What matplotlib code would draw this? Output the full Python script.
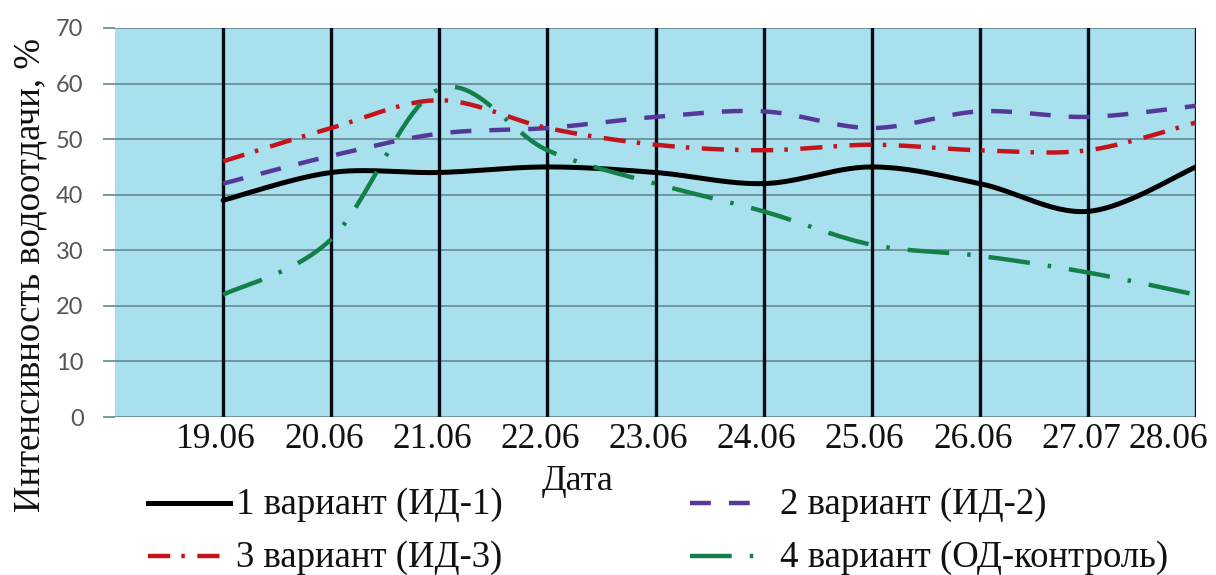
import numpy as np
import matplotlib
matplotlib.use("Agg")
import matplotlib.pyplot as plt
from matplotlib.lines import Line2D
from matplotlib.transforms import ScaledTranslation

plt.rcParams['lines.scale_dashes'] = False

# ---- data ----
dates = ["19.06", "20.06", "21.06", "22.06", "23.06", "24.06", "25.06", "26.06", "27.07", "28.06"]
v1 = [39, 44, 44, 45, 44, 42, 45, 42, 37, 45]   # 1 вариант (ИД-1)
v2 = [42, 47, 51, 52, 54, 55, 52, 55, 54, 56]   # 2 вариант (ИД-2)
v3 = [46, 52, 57, 52, 49, 48, 49, 48, 48, 53]   # 3 вариант (ИД-3)
v4 = [22, 32, 59, 48, 42, 37, 31, 29, 26, 22]   # 4 вариант (ОД-контроль)
labels = ["1 вариант (ИД-1)", "2 вариант (ИД-2)", "3 вариант (ИД-3)", "4 вариант (ОД-контроль)"]
yticks = [0, 10, 20, 30, 40, 50, 60, 70]

colors = ["#000000", "#55399a", "#c3141c", "#13804a"]
styles = ["-",
          (0, (15, 13)),
          (0, (16, 8, 2.5, 9)),
          (0, (30, 13, 2.5, 13))]
widths = [3.6, 3.2, 3.2, 3.2]


def smooth(x, y, n=30):
    """Excel-like smoothed line (Catmull-Rom Bezier through the points)."""
    P = np.column_stack([x, y]).astype(float)
    ext = np.vstack([P[0], P, P[-1]])
    out = []
    for i in range(len(P) - 1):
        p0, p1, p2, p3 = ext[i], ext[i + 1], ext[i + 2], ext[i + 3]
        c1 = p1 + (p2 - p0) / 6.0
        c2 = p2 - (p3 - p1) / 6.0
        t = np.linspace(0, 1, n, endpoint=(i == len(P) - 2))[:, None]
        seg = ((1 - t) ** 3) * p1 + 3 * ((1 - t) ** 2) * t * c1 + 3 * (1 - t) * t ** 2 * c2 + t ** 3 * p2
        out.append(seg)
    s = np.vstack(out)
    return s[:, 0], s[:, 1]


W, H = 1216, 575
fig = plt.figure(figsize=(W / 100, H / 100), dpi=100)
ax = fig.add_axes([115 / W, 1 - 417 / H, (1196 - 115) / W, (417 - 28) / H])
ax.set_facecolor("#a8e0ee")

x = np.arange(len(dates))
ax.set_xlim(-1, len(dates) - 1)
ax.set_ylim(0, 70)

# grid
ax.set_yticks(yticks)
ax.yaxis.grid(True, color="#668894", lw=1.2)
ax.set_axisbelow(True)
for xi in x:
    ax.axvline(xi, color="#050a14", lw=2.4, zorder=1.5)

for s in ax.spines.values():
    s.set_visible(False)

for vals, c, ls, lw, lab in zip([v1, v2, v3, v4], colors, styles, widths, labels):
    xs, ys = smooth(x, vals)
    ax.plot(xs, ys, color=c, ls=ls, lw=lw, zorder=3, solid_capstyle='round', label=lab)

ax.set_xticks(x)
ax.set_xticklabels(dates, fontfamily="Liberation Serif", fontsize=25.5, color="#111111")
ax.tick_params(axis='x', length=0, pad=4)
tl = ax.get_xticklabels()
shift = ScaledTranslation(-7 / 100, 0, fig.dpi_scale_trans)
for t in tl[:-1]:
    t.set_transform(t.get_transform() + shift)
tl[-1].set_horizontalalignment("right")
tl[-1].set_transform(tl[-1].get_transform() + ScaledTranslation(12 / 100, 0, fig.dpi_scale_trans))

ax.tick_params(axis='y', length=8.6, width=1.2, color="#668894", pad=14,
               labelsize=17, labelcolor="#555555")
for t in ax.get_yticklabels():
    t.set_fontfamily("Lato")

fig.text(577 / W, 1 - 481 / H, "Дата", ha="center", va="center",
         fontfamily="Liberation Serif", fontsize=26, color="#111111")
fig.text(30 / W, 1 - 275 / H, "Интенсивность водоотдачи, %", rotation=90,
         ha="center", va="center", fontfamily="Liberation Serif", fontsize=26.5, color="#111111")

# legend (manual placement, Excel-like)
leg_pos = [((148, 230), 236, 503), ((690, 752), 780, 503),
           ((148, 230), 236, 556), ((690, 760), 780, 556)]
for i, ((x0, x1), tx, yy) in enumerate(leg_pos):
    fig.add_artist(Line2D([x0 / W, x1 / W], [1 - yy / H, 1 - yy / H], transform=fig.transFigure,
                          color=colors[i], ls=styles[i], lw=widths[i]))
    fig.text(tx / W, 1 - (yy + 2) / H, labels[i], ha="left", va="center",
             fontfamily="Liberation Serif", fontsize=26.5, color="#111111")

fig.savefig("out.png", dpi=100)
